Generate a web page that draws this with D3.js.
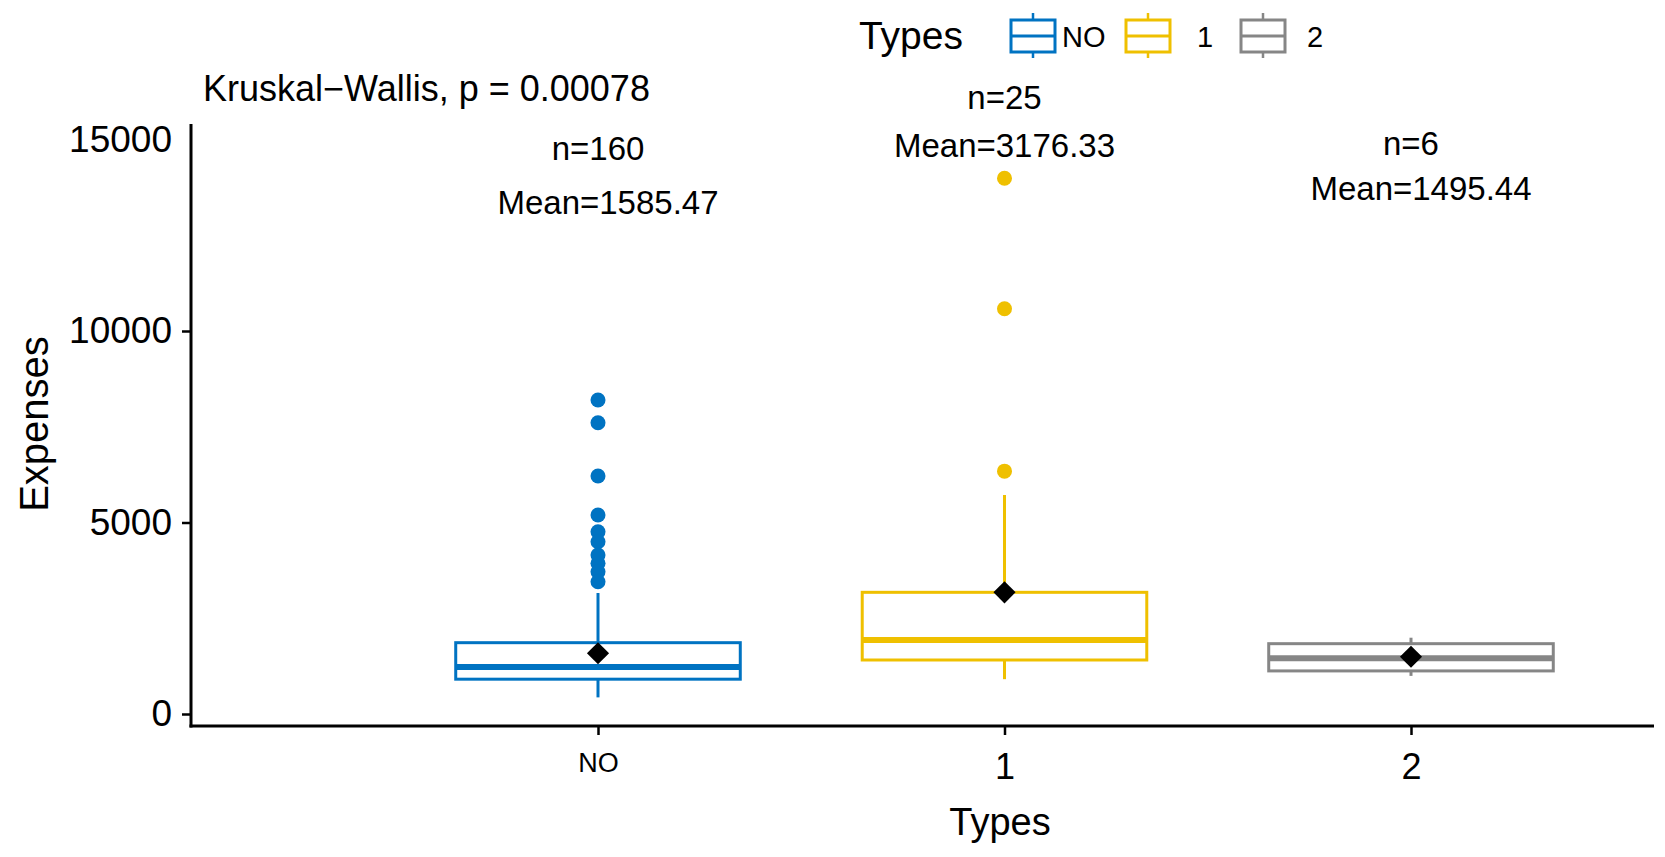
<!DOCTYPE html>
<html>
<head>
<meta charset="utf-8">
<script src="https://cdn.jsdelivr.net/npm/d3@7"></script>
<style>
  body { margin: 0; background: #fff; }
  text { font-family: "Liberation Sans", Arial, Helvetica, sans-serif; fill: #000; }
</style>
</head>
<body>
<div id="chart"></div>
<script>
// box plot values
var groups = ["NO", "1", "2"];
var counts = [160, 25, 6];
var means = [1585.47, 3176.33, 1495.44];
var q1 = [909, 1410, 1125];
var medians = [1229, 1930, 1455];
var q3 = [1862, 3177, 1836];
var whiskerLow = [434, 909, 995];
var whiskerHigh = [3159, 5718, 1992];
var outliers = [
  [8198, 7606, 6214, 5196, 4760, 4499, 4151, 3934, 3715, 3454],
  [13990, 10580, 6340],
  []
];
var yTicks = [0, 5000, 10000, 15000];
var colors = ["#0073C2", "#EFC000", "#868686"];

var svgWidth = 1665;
var svgHeight = 857;

var svg = d3.select("#chart")
  .append("svg")
  .attr("width", svgWidth)
  .attr("height", svgHeight);

// panel edges
var panelLeft = 191, panelRight = 1654, panelTop = 124, panelBottom = 726;

var yScale = d3.scaleLinear()
  .domain([0, 15000])
  .range([714, 139.5]);

var xScale = d3.scalePoint()
  .domain(groups)
  .range([598, 1411]);

var step = xScale(groups[1]) - xScale(groups[0]);
var boxW = step * 0.7;

// y axis
var yAxis = svg.append("g")
  .attr("transform", `translate(${panelLeft},0)`)
  .call(d3.axisLeft(yScale)
    .tickValues(yTicks)
    .tickFormat(d3.format("d"))
    .tickSize(9)
    .tickPadding(10)
    .tickSizeOuter(0));
yAxis.select(".domain").remove();
yAxis.selectAll(".tick line").attr("stroke", "#000").attr("stroke-width", 2.5)
  .filter(d => d === 15000).remove();
yAxis.selectAll(".tick text").style("font-size", "37px").attr("fill", "#000");

// x axis
var xAxis = svg.append("g")
  .attr("transform", `translate(0,${panelBottom})`)
  .call(d3.axisBottom(xScale).tickSize(9).tickPadding(18).tickSizeOuter(0));
xAxis.select(".domain").remove();
xAxis.selectAll(".tick line").attr("stroke", "#000").attr("stroke-width", 2.5);
xAxis.selectAll(".tick text")
  .style("font-size", d => d === "NO" ? "27px" : "36px")
  .attr("fill", "#000");

// axis lines
svg.append("line")
  .attr("x1", panelLeft).attr("x2", panelLeft)
  .attr("y1", panelTop).attr("y2", panelBottom + 1.5)
  .attr("stroke", "#000").attr("stroke-width", 3);
svg.append("line")
  .attr("x1", panelLeft - 1.5).attr("x2", panelRight)
  .attr("y1", panelBottom).attr("y2", panelBottom)
  .attr("stroke", "#000").attr("stroke-width", 3);

// axis titles
svg.append("text")
  .attr("x", 1000).attr("y", 835)
  .attr("text-anchor", "middle")
  .style("font-size", "38px")
  .text("Types");

svg.append("text")
  .attr("transform", "translate(48,424) rotate(-90)")
  .attr("text-anchor", "middle")
  .style("font-size", "40px")
  .text("Expenses");

// boxes
var boxes = svg.append("g").selectAll("g")
  .data(groups)
  .enter()
  .append("g");

boxes.append("line")
  .attr("x1", d => xScale(d)).attr("x2", d => xScale(d))
  .attr("y1", (d, i) => yScale(whiskerHigh[i]))
  .attr("y2", (d, i) => yScale(q3[i]))
  .attr("stroke", (d, i) => colors[i]).attr("stroke-width", 3);

boxes.append("line")
  .attr("x1", d => xScale(d)).attr("x2", d => xScale(d))
  .attr("y1", (d, i) => yScale(q1[i]))
  .attr("y2", (d, i) => yScale(whiskerLow[i]))
  .attr("stroke", (d, i) => colors[i]).attr("stroke-width", 3);

boxes.append("rect")
  .attr("x", d => xScale(d) - boxW / 2)
  .attr("width", boxW)
  .attr("y", (d, i) => yScale(q3[i]))
  .attr("height", (d, i) => yScale(q1[i]) - yScale(q3[i]))
  .attr("fill", "#fff")
  .attr("stroke", (d, i) => colors[i]).attr("stroke-width", 3);

boxes.append("line")
  .attr("x1", d => xScale(d) - boxW / 2).attr("x2", d => xScale(d) + boxW / 2)
  .attr("y1", (d, i) => yScale(medians[i]))
  .attr("y2", (d, i) => yScale(medians[i]))
  .attr("stroke", (d, i) => colors[i]).attr("stroke-width", 6);

// outlier points
boxes.each(function (d, i) {
  d3.select(this).selectAll("circle")
    .data(outliers[i])
    .enter()
    .append("circle")
    .attr("cx", xScale(d))
    .attr("cy", v => yScale(v))
    .attr("r", 7.5)
    .attr("fill", colors[i]);
});

// mean diamonds
boxes.append("path")
  .attr("d", d3.symbol(d3.symbolSquare, 245))
  .attr("transform", (d, i) => `translate(${xScale(d)},${yScale(means[i])}) rotate(45)`)
  .attr("fill", "#000");

// n / mean labels
var nBase = [160, 109, 155];
var meanBase = [214, 157, 200];
var meanShift = [10, 0, 10];
boxes.append("text")
  .attr("x", d => xScale(d))
  .attr("y", (d, i) => nBase[i])
  .attr("text-anchor", "middle")
  .style("font-size", "33px")
  .text((d, i) => "n=" + counts[i]);
boxes.append("text")
  .attr("x", (d, i) => xScale(d) + meanShift[i])
  .attr("y", (d, i) => meanBase[i])
  .attr("text-anchor", "middle")
  .style("font-size", "33px")
  .text((d, i) => "Mean=" + means[i].toFixed(2));

// test label
svg.append("text")
  .attr("x", 203).attr("y", 101)
  .style("font-size", "36px")
  .text("Kruskal\u2212Wallis, p = 0.00078");

// legend
var legend = svg.append("g");
legend.append("text")
  .attr("x", 963).attr("y", 49)
  .attr("text-anchor", "end")
  .style("font-size", "39px")
  .text("Types");

var keyX = [1033, 1148, 1263];
var labelX = [1062, 1197, 1307];
var keys = legend.selectAll("g.key")
  .data(groups)
  .enter()
  .append("g")
  .attr("class", "key")
  .attr("transform", (d, i) => `translate(${keyX[i]},0)`);

keys.append("line")
  .attr("x1", 0).attr("x2", 0).attr("y1", 13).attr("y2", 58)
  .attr("stroke", (d, i) => colors[i]).attr("stroke-width", 2.5);
keys.append("rect")
  .attr("x", -22).attr("y", 20).attr("width", 44).attr("height", 32)
  .attr("fill", "#fff")
  .attr("stroke", (d, i) => colors[i]).attr("stroke-width", 3);
keys.append("line")
  .attr("x1", -22).attr("x2", 22).attr("y1", 36).attr("y2", 36)
  .attr("stroke", (d, i) => colors[i]).attr("stroke-width", 3);

legend.selectAll("text.lab")
  .data(groups)
  .enter()
  .append("text")
  .attr("class", "lab")
  .attr("x", (d, i) => labelX[i])
  .attr("y", 47)
  .style("font-size", "29px")
  .text(d => d);
</script>
</body>
</html>
